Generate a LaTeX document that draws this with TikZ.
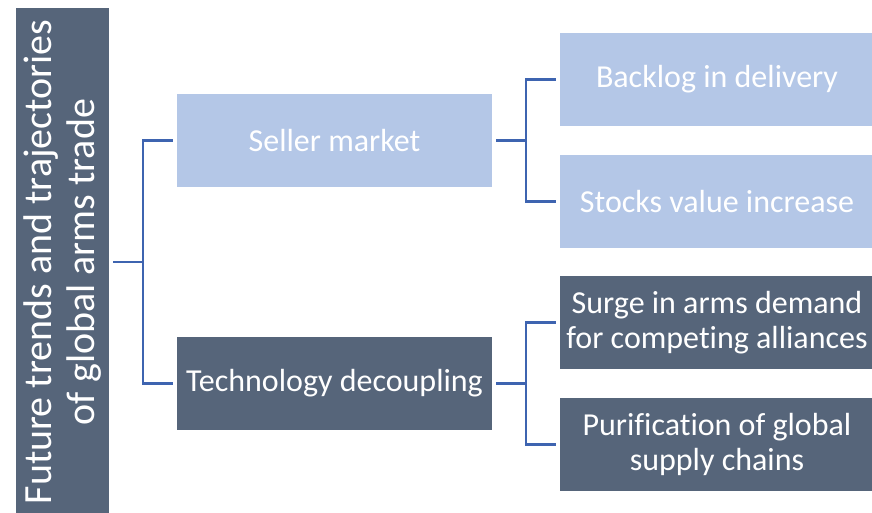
\documentclass[tikz,border=0pt]{standalone}
\usepackage{fontspec}
\setmainfont{Carlito}[Ligatures=NoCommon]
\usetikzlibrary{calc}
\definecolor{dark}{RGB}{86,101,122}
\definecolor{light}{RGB}{180,199,231}
\definecolor{wire}{RGB}{62,100,176}
\tikzset{
    box/.style={inner sep=0pt, minimum width=314pt, minimum height=93pt, font=\fontsize{32}{35}\selectfont, align=center},
    lbox/.style={box, fill=light, text=white},
    dbox/.style={box, fill=dark, text=white},
    link/.style={draw=wire, line width=2.3pt}
}

\begin{document}
\begin{tikzpicture}[x=1pt,y=-1pt]
    \useasboundingbox (0,0) rectangle (872,513);
    \begin{scope}
    \clip (0,0) rectangle (872,513);
    \node[dbox, rotate=90, minimum width=508pt, font=\fontsize{40}{43}\selectfont] (root) at (62.5,262) {Future trends and trajectories\\of global arms trade};
    \node[lbox, minimum width=315pt] (seller) at (334.5,140.5) {Seller market};
    \node[dbox, minimum width=315pt] (tech) at (334.5,383.5) {Technology decoupling};
    \node[lbox] (backlog) at (717,79.5) {Backlog in delivery};
    \node[lbox] (stocks) at (717,201.5) {Stocks value increase};
    \node[dbox] (surge) at (717,322.5) {Surge in arms demand\\for competing alliances};
    \node[dbox] (purif) at (717,444.5) {Purification of global\\supply chains};
    \end{scope}

    \coordinate (j1) at (143,262);
    \coordinate (j2) at (526,140.5);
    \coordinate (j3) at (526,383.5);
    \draw[link] ([xshift=4pt]root.south |- j1) -- (j1);
    \draw[link] ([xshift=-4pt]seller.west) -| (j1) |- ([xshift=-4pt]tech.west);
    \draw[link] ([xshift=4pt]seller.east) -- (j2);
    \draw[link] ([xshift=-4pt]backlog.west) -| (j2) |- ([xshift=-4pt]stocks.west);
    \draw[link] ([xshift=4pt]tech.east) -- (j3);
    \draw[link] ([xshift=-4pt]surge.west) -| (j3) |- ([xshift=-4pt]purif.west);
\end{tikzpicture}
\end{document}
